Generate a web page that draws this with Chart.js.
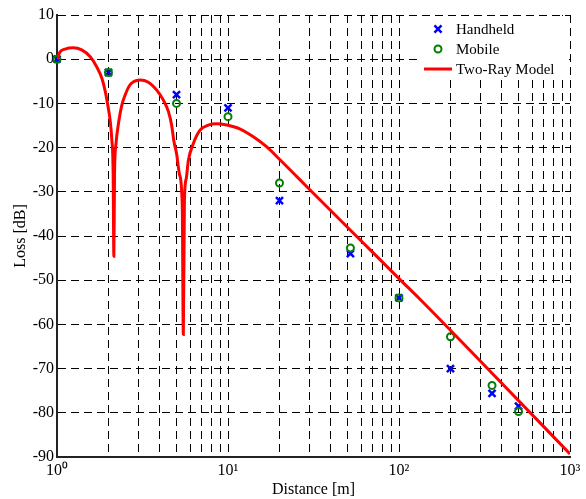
<!DOCTYPE html>
<html>
<head>
<meta charset="utf-8">
<script src="https://cdn.jsdelivr.net/npm/chart.js@4/dist/chart.umd.min.js"></script>
<style>
  html, body { margin: 0; padding: 0; background: #fff; }
  #wrap { width: 586px; height: 499px; }
</style>
</head>
<body>
<div id="wrap"><canvas id="chart"></canvas></div>
<script>
// measured points
const distances = [1, 2, 5, 10, 20, 52, 100, 200, 350, 500];
const handheld = [0, -3, -8, -11, -32, -44, -54, -70, -75.6, -78.5];
const mobile = [0, -3, -10, -13, -28, -42.7, -54, -62.8, -73.8, -79.7];

// two-ray model curve
const twoRayDist = [1, 1.04, 1.114, 1.245, 1.394, 1.56, 1.706, 1.83, 1.908, 1.98, 2.04, 2.09, 2.13, 2.15, 2.17, 2.21, 2.3, 2.39, 2.52, 2.65, 2.8, 3.06, 3.42, 3.83, 4.18, 4.48, 4.68, 4.83, 5.01, 5.2, 5.4, 5.48, 5.56, 5.7, 5.86, 6.28, 6.85, 7.67, 8.59, 9.83, 11.8, 14.0, 16.8, 20.2, 26.4, 30.2, 56.6, 101, 132.7, 326, 1000];
const twoRayLoss = [0, 1.6, 2.3, 2.6, 2.1, 0.6, -1.7, -4.3, -7, -10.3, -13.5, -18, -26, -44.6, -26, -19.4, -14, -10.5, -7.8, -6, -5.1, -4.7, -5.2, -7, -9.2, -11.8, -14.9, -18.6, -21.5, -26, -33, -62.3, -32, -27, -23, -19, -16.1, -14.9, -14.6, -14.9, -15.8, -17.5, -19.8, -22.8, -27.3, -29.6, -40.1, -49.8, -54.3, -69.8, -89.3];

const yTicks = [10, 0, -10, -20, -30, -40, -50, -60, -70, -80, -90];
const xDecades = [1, 10, 100, 1000];
const supers = { 1: '10\u2070', 10: '10\u00b9', 100: '10\u00b2', 1000: '10\u00b3' };

const serif = '"Liberation Serif", "Times New Roman", serif';

const toXY = (xs, ys) => xs.map((x, i) => ({ x: x, y: ys[i] }));

// white legend box in the top right corner
const legendBox = {
  id: 'legendBox',
  afterDatasetsDraw(chart) {
    const ctx = chart.ctx;
    const x0 = 418, y0 = 16, w = 151, h = 63;
    ctx.save();
    ctx.fillStyle = '#fff';
    ctx.fillRect(x0, y0, w, h);
    ctx.font = '15px ' + serif;
    ctx.textBaseline = 'middle';
    chart.data.datasets.forEach((ds, i) => {
      const cy = 29 + i * 20;
      if (ds.showLine) {
        ctx.strokeStyle = ds.borderColor;
        ctx.lineWidth = 3;
        ctx.beginPath();
        ctx.moveTo(424, cy);
        ctx.lineTo(452, cy);
        ctx.stroke();
      } else {
        ctx.fillStyle = ds.backgroundColor;
        ctx.strokeStyle = ds.borderColor;
        ctx.lineWidth = ds.borderWidth;
        Chart.helpers.drawPoint(ctx, {
          pointStyle: ds.pointStyle,
          radius: ds.pointRadius,
          borderWidth: ds.borderWidth
        }, 438, cy);
      }
      ctx.fillStyle = '#000';
      ctx.fillText(ds.label, 456, cy + 1);
    });
    ctx.restore();
  }
};

const ctx = document.getElementById('chart');
new Chart(ctx, {
  type: 'scatter',
  data: {
    datasets: [
      {
        label: 'Handheld',
        data: toXY(distances, handheld),
        pointStyle: 'crossRot',
        pointRadius: 5,
        borderWidth: 2.5,
        borderColor: '#0000ff',
        backgroundColor: '#0000ff',
        showLine: false,
        clip: false,
        order: 2
      },
      {
        label: 'Mobile',
        data: toXY(distances, mobile),
        pointStyle: 'circle',
        pointRadius: 3.5,
        borderWidth: 2,
        borderColor: '#008000',
        backgroundColor: 'rgba(0,0,0,0)',
        showLine: false,
        clip: false,
        order: 1
      },
      {
        label: 'Two-Ray Model',
        data: toXY(twoRayDist, twoRayLoss),
        showLine: true,
        pointRadius: 0,
        borderColor: '#ff0000',
        borderWidth: 3,
        cubicInterpolationMode: 'monotone',
        order: 0
      }
    ]
  },
  options: {
    responsive: true,
    maintainAspectRatio: false,
    animation: false,
    events: [],
    layout: { padding: { top: 15, right: 16, left: 0, bottom: 0 } },
    plugins: {
      legend: { display: false },
      tooltip: { enabled: false }
    },
    scales: {
      x: {
        type: 'logarithmic',
        min: 1,
        max: 1000,
        afterBuildTicks(scale) {
          const t = [];
          xDecades.slice(0, 3).forEach(d => {
            for (let k = 1; k < 10; k++) t.push({ value: d * k });
          });
          t.push({ value: 1000 });
          scale.ticks = t;
        },
        afterFit(scale) { scale.height = 42; },
        ticks: {
          autoSkip: false,
          maxRotation: 0,
          padding: 4,
          color: '#000',
          font: { family: serif, size: 16 },
          callback: v => supers[v] || ''
        },
        grid: { color: '#000', lineWidth: 1, drawTicks: false },
        border: { display: true, color: '#222', width: 2, dash: [8, 5] },
        title: {
          display: true,
          text: 'Distance [m]',
          color: '#000',
          font: { family: serif, size: 16 },
          padding: { top: 0, bottom: 0 }
        }
      },
      y: {
        type: 'linear',
        min: -90,
        max: 10,
        afterBuildTicks(scale) {
          scale.ticks = yTicks.map(v => ({ value: v }));
        },
        afterFit(scale) { scale.width = 57; },
        ticks: {
          padding: 3,
          color: '#000',
          font: { family: serif, size: 16 }
        },
        grid: { color: '#000', lineWidth: 1, drawTicks: false },
        border: { display: true, color: '#222', width: 2, dash: [8, 5] },
        title: {
          display: true,
          text: 'Loss [dB]',
          color: '#000',
          font: { family: serif, size: 16 },
          padding: { top: 11, bottom: 0 }
        }
      }
    }
  },
  plugins: [legendBox]
});
</script>
</body>
</html>
